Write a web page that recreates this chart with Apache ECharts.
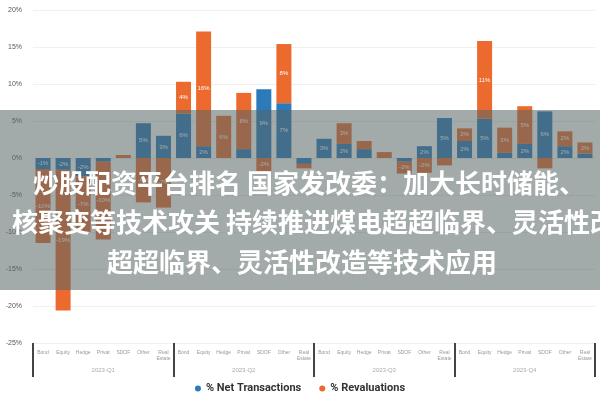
<!DOCTYPE html>
<html>
<head>
<meta charset="utf-8">
<script src="https://cdn.jsdelivr.net/npm/echarts@6/dist/echarts.min.js"></script>
<style>html,body{margin:0;padding:0;background:#fff}#c{width:600px;height:400px}</style>
</head>
<body>
<div id="c"></div>
<script>
const assetClasses = ['Bond','Equity','Hedge','Privat','SDOF','Other','Real\nEstate'];
const quarters = ['2023-Q1','2023-Q2','2023-Q3','2023-Q4'];
const categories = [].concat(assetClasses, assetClasses, assetClasses, assetClasses);
const netTransactions = [
  -1.5, -1.6, -2.5, -0.5, 0, 4.7, 3.0,
  6.0, 1.6, 0, 1.2, 9.3, 7.4, -0.8,
  2.6, 1.9, 1.2, 0, -0.5, 1.6, 5.4,
  2.3, 5.3, 0.7, 1.9, 6.3, 1.6, 0.6
];
const revaluations = [
  -10, -19, -7.5, -10.5, 0.4, -6, -6.7,
  4.3, 15.5, 5.7, 7.6, -1.8, 8.0, -0.6,
  0, 2.8, 1.1, 0.8, -1.6, -2.0, -1.0,
  1.7, 10.5, 3.4, 5.1, -1.4, 2.0, 1.5
];
const yTicks = {min: -25, max: 20, interval: 5};
const bannerLines = [
  '炒股配资平台排名 国家发改委：加大长时储能、',
  '核聚变等技术攻关 持续推进煤电超超临界、灵活性改',
  '超超临界、灵活性改造等技术应用'
];

const chart = echarts.init(document.getElementById('c'));
const lbl = {
  show: true, color: '#fff', fontSize: 6,
  formatter: p => Math.abs(p.value) >= 1.5 ? Math.round(p.value) + '%' : ''
};
chart.setOption({
  animation: false,
  grid: {left: 33, right: 5, top: 10, bottom: 57},
  legend: {
    bottom: 1, left: 'center', icon: 'circle', itemWidth: 6, itemHeight: 6, itemGap: 18,
    textStyle: {fontSize: 11, fontWeight: 'bold', color: '#333', fontFamily: 'Roboto'},
    data: ['% Net Transactions', '% Revaluations']
  },
  xAxis: [
    {
      type: 'category', data: categories,
      axisLine: {show: false}, axisTick: {show: false},
      axisLabel: {interval: 0, fontSize: 5, color: '#999', margin: 7, lineHeight: 6}
    },
    {
      type: 'category', data: quarters, position: 'bottom',
      axisLine: {show: false, onZero: false},
      axisTick: {show: true, length: 34, lineStyle: {color: '#444', width: 2}},
      axisLabel: {fontSize: 6, color: '#aaa', margin: 24}
    }
  ],
  yAxis: {
    type: 'value', min: yTicks.min, max: yTicks.max, interval: yTicks.interval,
    axisLabel: {formatter: '{value}%', fontSize: 7, color: '#555', margin: 11},
    splitLine: {lineStyle: {color: '#f0f0ec'}}
  },
  series: [
    {name: '% Net Transactions', type: 'bar', stack: 'a', data: netTransactions,
     barWidth: 15, itemStyle: {color: '#2b7bbb'}, label: lbl},
    {name: '% Revaluations', type: 'bar', stack: 'a', data: revaluations,
     barWidth: 15, itemStyle: {color: '#ec6a2e'}, label: lbl}
  ],
  graphic: [
    {type: 'rect', z: 100, shape: {x: 0, y: 110, width: 600, height: 180},
     style: {fill: 'rgba(85,100,100,0.55)'}},
    {type: 'text', z: 101, x: 33, y: 183, style: {text: bannerLines[0], fill: '#fff', fontSize: 26, fontWeight: 'bold', fontFamily: 'Noto Sans CJK SC', verticalAlign: 'middle'}},
    {type: 'text', z: 101, x: 12, y: 222, style: {text: bannerLines[1], fill: '#fff', fontSize: 26, fontWeight: 'bold', fontFamily: 'Noto Sans CJK SC', verticalAlign: 'middle'}},
    {type: 'text', z: 101, x: 107, y: 262, style: {text: bannerLines[2], fill: '#fff', fontSize: 26, fontWeight: 'bold', fontFamily: 'Noto Sans CJK SC', verticalAlign: 'middle'}}
  ]
});
</script>
</body>
</html>
